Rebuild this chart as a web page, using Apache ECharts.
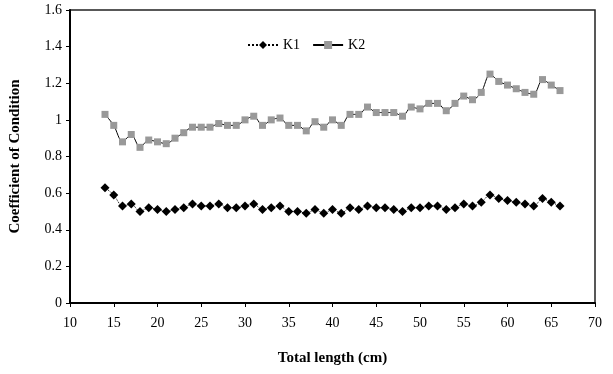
<!DOCTYPE html>
<html>
<head>
<meta charset="utf-8">
<script src="https://cdn.jsdelivr.net/npm/echarts@6/dist/echarts.min.js"></script>
<style>html,body{margin:0;padding:0;background:#fff;}#c{width:613px;height:374px;}</style>
</head>
<body>
<div id="c"></div>
<script>
var lengths = [14,15,16,17,18,19,20,21,22,23,24,25,26,27,28,29,30,31,32,33,34,35,36,37,38,39,40,41,42,43,44,45,46,47,48,49,50,51,52,53,54,55,56,57,58,59,60,61,62,63,64,65,66];
var k1 = [0.63,0.59,0.53,0.54,0.50,0.52,0.51,0.50,0.51,0.52,0.54,0.53,0.53,0.54,0.52,0.52,0.53,0.54,0.51,0.52,0.53,0.50,0.50,0.49,0.51,0.49,0.51,0.49,0.52,0.51,0.53,0.52,0.52,0.51,0.50,0.52,0.52,0.53,0.53,0.51,0.52,0.54,0.53,0.55,0.59,0.57,0.56,0.55,0.54,0.53,0.57,0.55,0.53];
var k2 = [1.03,0.97,0.88,0.92,0.85,0.89,0.88,0.87,0.90,0.93,0.96,0.96,0.96,0.98,0.97,0.97,1.00,1.02,0.97,1.00,1.01,0.97,0.97,0.94,0.99,0.96,1.00,0.97,1.03,1.03,1.07,1.04,1.04,1.04,1.02,1.07,1.06,1.09,1.09,1.05,1.09,1.13,1.11,1.15,1.25,1.21,1.19,1.17,1.15,1.14,1.22,1.19,1.16];
var xTicks = {min: 10, max: 70, step: 5};
var yTicks = {min: 0, max: 1.6, step: 0.2};

function pairs(v){ return lengths.map(function(x,i){ return [x, v[i]]; }); }

var font = '"Liberation Serif", "Times New Roman", serif';
var chart = echarts.init(document.getElementById('c'));
chart.setOption({
  animation: false,
  backgroundColor: '#fff',
  grid: {left: 70, right: 18, top: 10, bottom: 71, show: true, borderColor: '#222', borderWidth: 1.5, backgroundColor: 'transparent'},
  legend: {
    left: 242, top: 33,
    itemWidth: 30, itemHeight: 10, itemGap: 12,
    textStyle: {fontFamily: font, fontSize: 14, color: '#000'},
    data: ['K1', 'K2']
  },
  xAxis: {
    type: 'value', min: xTicks.min, max: xTicks.max, interval: xTicks.step,
    name: 'Total length (cm)', nameLocation: 'middle', nameGap: 48,
    nameTextStyle: {fontFamily: font, fontSize: 15, fontWeight: 'bold', color: '#000'},
    axisLine: {show: true, lineStyle: {color: '#000', width: 2}},
    axisTick: {show: true, inside: false, length: 4, lineStyle: {color: '#000'}},
    axisLabel: {fontFamily: font, fontSize: 14, color: '#000', margin: 13},
    splitLine: {show: false}
  },
  yAxis: {
    type: 'value', min: yTicks.min, max: yTicks.max, interval: yTicks.step,
    name: 'Coefficient of Condition', nameLocation: 'middle', nameGap: 47,
    nameTextStyle: {fontFamily: font, fontSize: 15, fontWeight: 'bold', color: '#000'},
    axisLine: {show: true, lineStyle: {color: '#000', width: 2}},
    axisTick: {show: true, inside: false, length: 4, lineStyle: {color: '#000'}},
    axisLabel: {fontFamily: font, fontSize: 14, color: '#000', margin: 8},
    splitLine: {show: false}
  },
  series: [
    {
      name: 'K1', type: 'line', data: pairs(k1),
      symbol: 'diamond', symbolSize: 9,
      itemStyle: {color: '#000'},
      lineStyle: {color: '#000', width: 1, type: 'dotted'},
      smooth: 0.3
    },
    {
      name: 'K2', type: 'line', data: pairs(k2),
      symbol: 'rect', symbolSize: 7,
      itemStyle: {color: '#999'},
      lineStyle: {color: '#000', width: 1},
      smooth: 0.3
    }
  ]
});
</script>
</body>
</html>
